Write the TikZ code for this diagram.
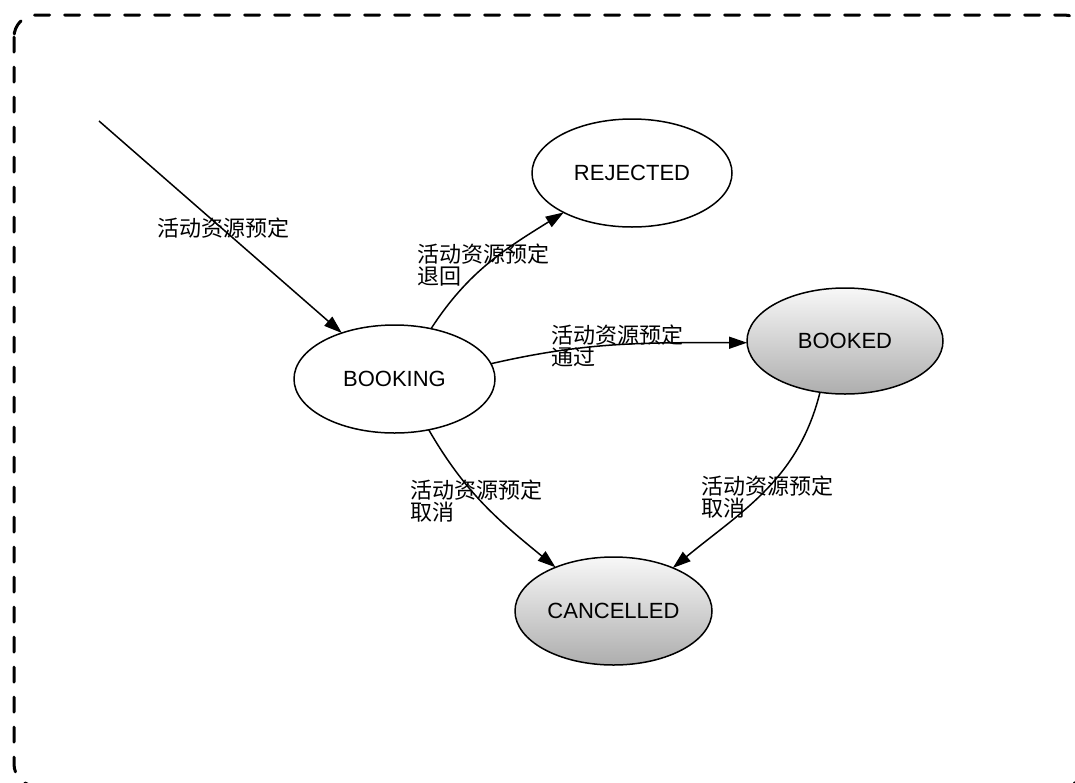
\documentclass[tikz,border=0pt]{standalone}
\usepackage{fontspec}
\setmainfont{Liberation Sans}
\newfontfamily\cjk{Noto Sans CJK SC}
\usetikzlibrary{arrows.meta,shapes.geometric}
\begin{document}
\begin{tikzpicture}[x=1pt,y=1pt,
  state/.style={ellipse,draw,line width=1.5pt,inner sep=0pt,outer sep=0pt,font=\fontsize{22}{26}\selectfont},
  grad/.style={top color=white!97!black,bottom color=black!32},
  edge/.style={line width=1.5pt,-{Triangle[length=18pt,width=12pt]}},
  lab/.style={anchor=west,align=left,inner sep=0pt,font=\cjk\fontsize{22}{22}\selectfont},
  frame/.style={line width=3pt,line cap=round,dash pattern=on 15pt off 15pt,rounded corners=22pt}]
\useasboundingbox (0,0) rectangle (1075,-782);
\begin{scope}
\clip (0,0) rectangle (1075,-782);
\draw[frame] (14,-15) rectangle (1086,-786);
\end{scope}
\node[state,minimum width=200pt,minimum height=108pt] (rejected) at (632,-173) {REJECTED};
\node[state,minimum width=201pt,minimum height=108pt] (booking) at (394.5,-379) {BOOKING};
\node[state,grad,minimum width=196pt,minimum height=106pt] (booked) at (845,-341) {BOOKED};
\node[state,grad,minimum width=197pt,minimum height=108pt] (cancelled) at (613.5,-611) {CANCELLED};
\coordinate (init) at (99,-121);
\draw[edge] (init) -- (booking);
\draw[edge] (booking.54) to[out=57,in=212] (rejected.210);
\draw[edge] (booking.9.4) to[out=13,in=180] (booked.181.8);
\draw[edge] (booking.304) to[out=-60,in=140.6] (cancelled.143);
\draw[edge] (booked.244.7) to[out=256,in=39.5] (cancelled.36.5);
\node[lab] (l0) at (157,-228) {活动资源预定};
\node[lab] (l1) at (417,-265) {活动资源预定\\退回};
\node[lab] (l2) at (551,-346) {活动资源预定\\通过};
\node[lab] (l3) at (410,-501) {活动资源预定\\取消};
\node[lab] (l4) at (701,-497.5) {活动资源预定\\取消};
\end{tikzpicture}
\end{document}
